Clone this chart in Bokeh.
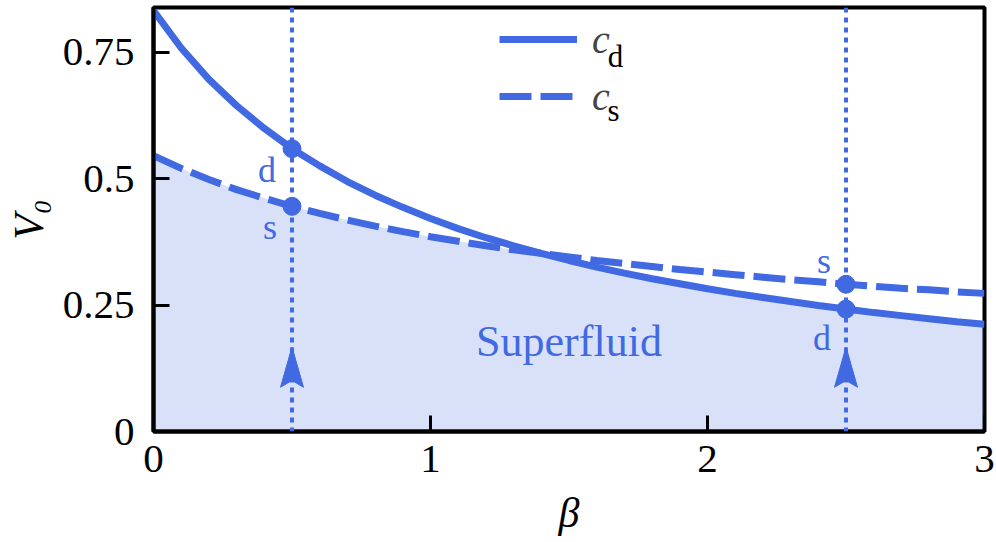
from bokeh.plotting import figure
from bokeh.models import Range1d, FixedTicker, Span, Label, Legend, LegendItem
from bokeh.core.properties import value
from bokeh.embed import file_html
from bokeh.resources import INLINE

# ---- data ----
BETA = [0.0, 0.1, 0.2, 0.3, 0.4, 0.5, 0.6, 0.7, 0.8, 0.9, 1.0,
        1.1, 1.2, 1.3, 1.4, 1.5, 1.6, 1.7, 1.8, 1.9, 2.0,
        2.1, 2.2, 2.3, 2.4, 2.5, 2.6, 2.7, 2.8, 2.9, 3.0]
C_D = [0.832, 0.758, 0.696, 0.644, 0.599, 0.559, 0.525, 0.494, 0.467, 0.443, 0.421,
       0.401, 0.383, 0.367, 0.352, 0.338, 0.325, 0.313, 0.302, 0.292, 0.282,
       0.273, 0.265, 0.257, 0.249, 0.242, 0.235, 0.229, 0.223, 0.217, 0.212]
C_S = [0.545, 0.520, 0.498, 0.478, 0.461, 0.445, 0.431, 0.418, 0.406, 0.395, 0.385,
       0.376, 0.367, 0.359, 0.352, 0.345, 0.338, 0.332, 0.326, 0.320, 0.315,
       0.310, 0.305, 0.300, 0.296, 0.291, 0.287, 0.283, 0.280, 0.276, 0.273]
MARK_BETA = [0.5, 2.5]
ARROW_TIP_Y = 0.167
ARROW_BASE_Y = 0.0875
X_TICKS = [0, 1, 2, 3]
X_TICK_LABELS = ["0", "1", "2", "3"]
Y_TICKS = [0, 0.25, 0.5, 0.75]
Y_TICK_LABELS = ["0", "0.25", "0.5", "0.75"]

BLUE = "#4169e1"
FONT = "Liberation Serif"

p = figure(width=996, height=542, x_range=Range1d(0, 3), y_range=Range1d(0, 0.838),
           output_backend="svg", toolbar_location=None,
           min_border_left=153, min_border_right=12, min_border_top=7, min_border_bottom=111)
p.grid.visible = False
p.outline_line_color = "black"
p.outline_line_width = 4

for ax in (p.xaxis[0], p.yaxis[0]):
    ax.major_tick_in = 16
    ax.major_tick_out = 0
    ax.minor_tick_in = 0
    ax.minor_tick_out = 0
    ax.major_tick_line_width = 3
    ax.major_tick_line_color = "black"
    ax.axis_line_width = 4
    ax.axis_line_color = "black"
    ax.major_label_text_font = FONT
    ax.major_label_text_font_size = "41px"
    ax.major_label_text_color = "black"
    ax.axis_label_text_font = FONT
    ax.axis_label_text_font_size = "42px"
    ax.axis_label_text_font_style = "italic"
    ax.axis_label_text_color = "black"

p.xaxis.ticker = FixedTicker(ticks=X_TICKS)
p.xaxis.major_label_overrides = dict(zip(X_TICKS, X_TICK_LABELS))
p.yaxis.ticker = FixedTicker(ticks=Y_TICKS)
p.yaxis.major_label_overrides = dict(zip(Y_TICKS, Y_TICK_LABELS))
p.xaxis.major_label_standoff = 14
p.yaxis.major_label_standoff = 19
p.xaxis.axis_label = "β"
p.xaxis.axis_label_standoff = 15
p.yaxis.axis_label = "V₀"
p.yaxis.axis_label_standoff = 8

# superfluid region under the lower curve
lower = [min(a, b) for a, b in zip(C_D, C_S)]
p.varea(x=BETA, y1=0, y2=lower, fill_color=BLUE, fill_alpha=0.2)

r_cd = p.line(BETA, C_D, line_color=BLUE, line_width=7)
r_cs = p.line(BETA, C_S, line_color=BLUE, line_width=7, line_dash="32 9")

for b in MARK_BETA:
    p.add_layout(Span(location=b, dimension="height", line_color=BLUE,
                      line_width=4, line_dash="5 5"))

idx = [BETA.index(b) for b in MARK_BETA]
mx = [MARK_BETA[0], MARK_BETA[0], MARK_BETA[1], MARK_BETA[1]]
my = [C_D[idx[0]], C_S[idx[0]], C_D[idx[1]], C_S[idx[1]]]
p.scatter(mx, my, size=18, color=BLUE)
p.text(x=mx, y=my, text=["d", "s", "d", "s"],
       x_offset=[-16, -15, -15, -15], y_offset=[21, 21, 29, -23],
       text_align="right", text_baseline="alphabetic",
       text_font=value(FONT), text_font_size="36px", text_color=BLUE)

# arrow heads on the dotted lines
hw = 0.0415
notch = ARROW_BASE_Y + 0.0133
xs = [[b, b - hw, b, b + hw] for b in MARK_BETA]
ys = [[ARROW_TIP_Y, ARROW_BASE_Y, notch, ARROW_BASE_Y] for b in MARK_BETA]
p.patches(xs, ys, fill_color=BLUE, line_color=BLUE, line_width=1)

p.add_layout(Label(x=1.5, y=0.178, text="Superfluid", text_align="center",
                   text_baseline="alphabetic", text_font=FONT,
                   text_font_size="44px", text_color=BLUE))

legend = Legend(items=[LegendItem(label="c", renderers=[r_cd]),
                       LegendItem(label="c", renderers=[r_cs])],
                location=(346, 310), glyph_width=78, glyph_height=50,
                label_standoff=15, spacing=7, padding=0, margin=0,
                border_line_color=None, background_fill_alpha=0,
                label_text_font=FONT, label_text_font_style="italic",
                label_text_font_size="40px")
p.add_layout(legend)
p.add_layout(Label(x=1.668, y=0.741, text="d", text_align="center",
                   text_baseline="alphabetic", text_font=FONT,
                   text_font_size="31px", text_color="black"))
p.add_layout(Label(x=1.661, y=0.635, text="s", text_align="center",
                   text_baseline="alphabetic", text_font=FONT,
                   text_font_size="31px", text_color="black"))

open("out.html", "w").write(file_html(p, INLINE))
